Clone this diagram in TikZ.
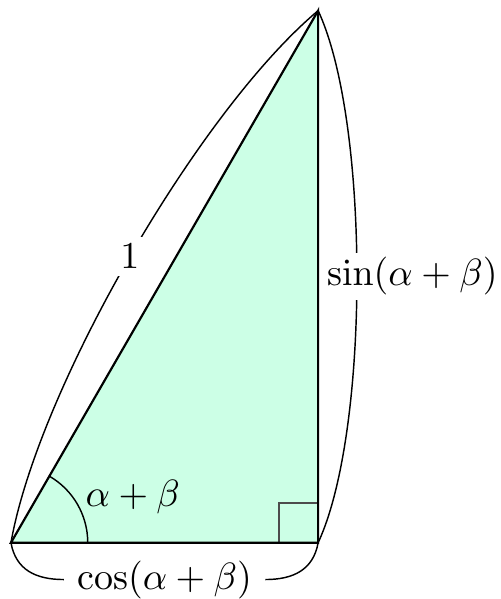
\documentclass[tikz,border=0pt]{standalone}
\usetikzlibrary{calc}
\definecolor{mint}{RGB}{204,255,230}
\begin{document}
\begin{tikzpicture}[
  edge/.style={semithick},
  brace/.style={thin},
  lbl/.style={scale=1.055},
  rightmark/.style={line width=0.5pt, draw=black!70},
]
\useasboundingbox (-0.107,-0.550) rectangle (4.785,5.300);
\coordinate (A) at (0,0);
\coordinate (B) at (3,0);
\coordinate (C) at (3,5.196);
\fill[mint] (A) -- (B) -- (C) -- cycle;
\draw[rightmark] ($(B)+(-0.385,0)$) |- ($(B)+(0,0.385)$);
\draw[thin] ($(A)+(0.75,0)$) arc[start angle=0, end angle=60, radius=0.75];
\draw[edge] (A) -- (B) -- (C) -- cycle;
\node[lbl] (ang) at (1.19,0.446) {$\alpha+\beta$};
\draw[brace] (A) to[bend left=20, looseness=0.65] node[lbl, fill=white, inner sep=2pt] (one) {$1$} (C);
\draw[brace] (C) to[bend left=25, looseness=0.59] (B);
\node[lbl, fill=white, inner sep=1.2pt] (sin) at (3.92,2.604) {$\sin(\alpha+\beta)$};
\node[lbl] (cos) at (1.5,-0.36) {$\cos(\alpha+\beta)$};
\draw[brace] (A) to[out=-80, in=180, looseness=1.1] (cos.west);
\draw[brace] (cos.east) to[out=0, in=-100, looseness=1.1] (B);
\end{tikzpicture}
\end{document}
